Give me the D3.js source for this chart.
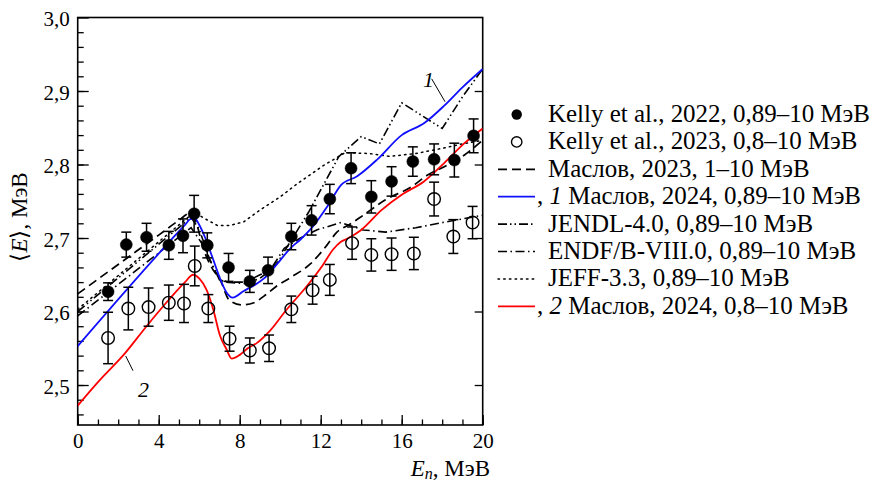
<!DOCTYPE html>
<html><head><meta charset="utf-8">
<script src="https://cdn.jsdelivr.net/npm/d3@7"></script>
<style>
html,body{margin:0;padding:0;background:#fff;}
svg text, svg tspan{font-family:"Liberation Serif","Times New Roman",serif !important;fill:#000;}
</style></head>
<body><svg id="chart" width="879" height="482"></svg>
<script>
// ---------- data ----------
const kelly22X = [1.5, 2.4, 3.4, 4.5, 5.2, 5.75, 6.4, 7.45, 8.5, 9.4, 10.55, 11.55, 12.45, 13.5, 14.5, 15.5, 16.55, 17.6, 18.6, 19.55];
const kelly22Y = [2.627, 2.691, 2.701, 2.690, 2.703, 2.733, 2.690, 2.660, 2.641, 2.656, 2.702, 2.724, 2.753, 2.795, 2.756, 2.777, 2.804, 2.807, 2.806, 2.839];
const kelly22Err = [0.012, 0.017, 0.019, 0.019, 0.023, 0.025, 0.017, 0.019, 0.015, 0.018, 0.018, 0.020, 0.020, 0.021, 0.022, 0.020, 0.020, 0.021, 0.023, 0.023];

const kelly23X = [1.5, 2.5, 3.5, 4.5, 5.25, 5.78, 6.45, 7.5, 8.5, 9.45, 10.55, 11.6, 12.45, 13.55, 14.5, 15.5, 16.6, 17.6, 18.55, 19.5];
const kelly23Y = [2.564, 2.604, 2.606, 2.612, 2.611, 2.662, 2.604, 2.563, 2.547, 2.550, 2.603, 2.629, 2.643, 2.693, 2.677, 2.678, 2.679, 2.753, 2.702, 2.721];
const kelly23Err = [0.035, 0.029, 0.026, 0.024, 0.026, 0.027, 0.019, 0.017, 0.017, 0.018, 0.018, 0.019, 0.021, 0.022, 0.022, 0.022, 0.022, 0.023, 0.023, 0.022];

const maslov23X = [0, 1, 2, 3, 4, 5, 5.5, 5.8, 6.2, 6.7, 7.0, 7.5, 8.1, 8.7, 9.2, 9.8, 10.5, 11.5, 12.3, 12.8, 13.4, 14.0, 15.2, 16.5, 17.3, 18.1, 19.1, 20];
const maslov23Y = [2.624, 2.644, 2.664, 2.684, 2.704, 2.724, 2.733, 2.725, 2.686, 2.656, 2.645, 2.615, 2.609, 2.612, 2.621, 2.634, 2.646, 2.665, 2.690, 2.708, 2.718, 2.729, 2.752, 2.770, 2.786, 2.797, 2.813, 2.833];

const maslov24aX = [0, 4.5, 5.3, 5.6, 5.8, 6.0, 6.3, 6.7, 7.0, 7.35, 7.65, 8.2, 8.8, 9.2, 9.8, 10.5, 11.0, 11.5, 12.4, 13.0, 13.8, 14.8, 16.0, 17.1, 18.1, 19.0, 20];
const maslov24aY = [2.553, 2.694, 2.718, 2.726, 2.726, 2.718, 2.700, 2.670, 2.647, 2.626, 2.619, 2.628, 2.637, 2.645, 2.663, 2.686, 2.698, 2.712, 2.746, 2.772, 2.784, 2.807, 2.840, 2.856, 2.880, 2.905, 2.930];

const jendlX = [0, 5.6, 6.0, 6.5, 7.0, 7.5, 8.3, 9.0, 9.5, 9.9, 10.5, 11.4, 12.9, 14.0, 14.9, 16.0, 18.0, 19.0, 20];
const jendlY = [2.600, 2.728, 2.712, 2.672, 2.643, 2.640, 2.640, 2.650, 2.656, 2.668, 2.695, 2.735, 2.811, 2.838, 2.828, 2.884, 2.849, 2.892, 2.930];

const endfX = [0, 5.6, 6.2, 6.8, 7.2, 8.3, 9.0, 9.5, 10.2, 11.0, 11.8, 13.0, 14.1, 15.2, 16.7, 18.2, 20];
const endfY = [2.594, 2.714, 2.690, 2.654, 2.640, 2.638, 2.645, 2.656, 2.686, 2.700, 2.711, 2.721, 2.711, 2.708, 2.714, 2.722, 2.731];

const jeffX = [0, 5.75, 6.3, 6.9, 7.5, 8.2, 9.0, 10.0, 10.8, 12.1, 13.2, 14.4, 15.4, 16.7, 18.0, 19.0, 20];
const jeffY = [2.603, 2.735, 2.726, 2.717, 2.717, 2.722, 2.738, 2.756, 2.773, 2.798, 2.816, 2.815, 2.811, 2.815, 2.822, 2.828, 2.833];

const maslov24bX = [0, 1, 2.33, 3.4, 4.5, 5.3, 5.7, 6.0, 6.37, 6.7, 7.03, 7.36, 7.6, 8.0, 8.4, 8.84, 9.5, 10.3, 11.3, 12.1, 12.6, 13.0, 13.3, 14.0, 15.0, 16.0, 17.1, 18.1, 19.1, 20];
const maslov24bY = [2.472, 2.504, 2.543, 2.580, 2.616, 2.640, 2.650, 2.645, 2.629, 2.602, 2.567, 2.548, 2.536, 2.541, 2.550, 2.557, 2.574, 2.602, 2.634, 2.663, 2.684, 2.695, 2.699, 2.711, 2.738, 2.759, 2.777, 2.802, 2.829, 2.849];

const xTicksMajor = [0, 4, 8, 12, 16, 20];
const yTicksMajor = [2.5, 2.6, 2.7, 2.8, 2.9, 3.0];

const legendLabels = [
  "Kelly et al., 2022, 0,89–10 МэВ",
  "Kelly et al., 2023, 0,8–10 МэВ",
  "Маслов, 2023, 1–10 МэВ",
  " Маслов, 2024, 0,89–10 МэВ",
  "JENDL-4.0, 0,89–10 МэВ",
  "ENDF/B-VIII.0, 0,89–10 МэВ",
  "JEFF-3.3, 0,89–10 МэВ",
  " Маслов, 2024, 0,8–10 МэВ"
];

// ---------- layout ----------
const FONT = "'Liberation Serif', 'Times New Roman', serif";
const svg = d3.select("#chart");
const x = d3.scaleLinear().domain([0, 20]).range([77.7, 482.7]);
const y = d3.scaleLinear().domain([2.4456, 3.0]).range([425, 17.5]);
const fmt = d => d3.format(".1f")(d).replace(".", ",");
const TICK_FS = 21;

svg.append("defs").append("clipPath").attr("id", "clip")
  .append("rect").attr("x", x(0)).attr("y", y(3.0)).attr("width", x(20) - x(0)).attr("height", y(2.4456) - y(3.0));

// axes
const xMinor = d3.range(0, 21, 1);
const yMinor = d3.range(2.46, 3.0, 0.02).map(v => +v.toFixed(2));

svg.append("g").attr("transform", `translate(0,${y.range()[0]})`)
  .call(d3.axisBottom(x).tickValues(xMinor).tickSizeInner(-5.5).tickSizeOuter(0).tickFormat(""))
  .call(g => g.select(".domain").remove());
const xAx = svg.append("g").attr("transform", `translate(0,${y.range()[0]})`)
  .call(d3.axisBottom(x).tickValues(xTicksMajor).tickSizeInner(-10).tickSizeOuter(0).tickPadding(9).tickFormat(d3.format("d")));
xAx.select(".domain").remove();
xAx.attr("font-family", null);
xAx.selectAll("text").attr("font-size", TICK_FS).attr("dy", "0.68em");

svg.append("g").attr("transform", `translate(${x.range()[0]},0)`)
  .call(d3.axisLeft(y).tickValues(yMinor).tickSizeInner(-6).tickSizeOuter(0).tickFormat(""))
  .call(g => g.select(".domain").remove());
const yAx = svg.append("g").attr("transform", `translate(${x.range()[0]},0)`)
  .call(d3.axisLeft(y).tickValues(yTicksMajor).tickSizeInner(-11).tickSizeOuter(0).tickPadding(8).tickFormat(fmt));
yAx.select(".domain").remove();
yAx.attr("font-family", null);
yAx.selectAll("text").attr("font-size", TICK_FS).attr("dy", "0.4em");

svg.append("g").attr("transform", `translate(${x.range()[1]},0)`)
  .call(d3.axisRight(y).tickValues(yTicksMajor.slice(0, 5)).tickSizeInner(-8).tickSizeOuter(0).tickFormat(""))
  .call(g => g.select(".domain").remove());

svg.selectAll(".tick line").attr("stroke", "#000").attr("stroke-width", 1.3);

// frame
svg.append("rect").attr("x", x(0)).attr("y", y(3.0)).attr("width", x(20) - x(0)).attr("height", y(2.4456) - y(3.0))
  .attr("fill", "none").attr("stroke", "#000").attr("stroke-width", 1.6);

// lines
const plot = svg.append("g").attr("clip-path", "url(#clip)");
const zip = (xs, ys) => xs.map((v, i) => [v, ys[i]]);
const lineLin = d3.line().x(d => x(d[0])).y(d => y(d[1]));
const lineSm = d3.line().x(d => x(d[0])).y(d => y(d[1])).curve(d3.curveMonotoneX);

const series = [
  {xs: jeffX, ys: jeffY, color: "#000", dash: "1.5,4.2", w: 1.5, gen: lineLin, cap: "round"},
  {xs: endfX, ys: endfY, color: "#000", dash: "9,3.5,1.5,3.5", w: 1.6, gen: lineLin},
  {xs: jendlX, ys: jendlY, color: "#000", dash: "9,3,1.5,3,1.5,3", w: 1.6, gen: lineLin},
  {xs: maslov23X, ys: maslov23Y, color: "#000", dash: "9,5", w: 1.7, gen: lineSm},
  {xs: maslov24aX, ys: maslov24aY, color: "#1010ff", dash: null, w: 1.8, gen: lineSm},
  {xs: maslov24bX, ys: maslov24bY, color: "#ff0000", dash: null, w: 1.8, gen: lineSm}
];
series.forEach(s => {
  plot.append("path").attr("d", s.gen(zip(s.xs, s.ys)))
    .attr("fill", "none").attr("stroke", s.color).attr("stroke-width", s.w)
    .attr("stroke-dasharray", s.dash).attr("stroke-linecap", s.cap || "butt");
});

// error bars and markers
function drawPoints(xs, ys, es, filled) {
  const g = svg.append("g");
  const d = xs.map((v, i) => ({x: v, y: ys[i], e: es[i]}));
  const cap = 5;
  g.append("g").selectAll("line").data(d).join("line")
    .attr("x1", p => x(p.x)).attr("x2", p => x(p.x))
    .attr("y1", p => y(p.y - p.e)).attr("y2", p => y(p.y + p.e))
    .attr("stroke", "#000").attr("stroke-width", 1.5);
  g.append("g").selectAll("line").data(d).join("line")
    .attr("x1", p => x(p.x) - cap).attr("x2", p => x(p.x) + cap)
    .attr("y1", p => y(p.y + p.e)).attr("y2", p => y(p.y + p.e))
    .attr("stroke", "#000").attr("stroke-width", 1.5);
  g.append("g").selectAll("line").data(d).join("line")
    .attr("x1", p => x(p.x) - cap).attr("x2", p => x(p.x) + cap)
    .attr("y1", p => y(p.y - p.e)).attr("y2", p => y(p.y - p.e))
    .attr("stroke", "#000").attr("stroke-width", 1.5);
  g.append("g").selectAll("circle").data(d).join("circle")
    .attr("cx", p => x(p.x)).attr("cy", p => y(p.y))
    .attr("r", filled ? 6 : 6.3)
    .attr("fill", filled ? "#000" : "none")
    .attr("stroke", "#000").attr("stroke-width", filled ? 0.5 : 1.4);
}
drawPoints(kelly23X, kelly23Y, kelly23Err, false);
drawPoints(kelly22X, kelly22Y, kelly22Err, true);

// curve annotations
svg.append("text").attr("x", x(17.05)).attr("y", y(2.905)).attr("font-size", 22).attr("font-style", "italic").text("1");
svg.append("line").attr("x1", x(17.48)).attr("y1", y(2.9166)).attr("x2", x(18.14)).attr("y2", y(2.8854)).attr("stroke", "#000").attr("stroke-width", 1);
svg.append("text").attr("x", x(2.98)).attr("y", y(2.484)).attr("font-size", 22).attr("font-style", "italic").text("2");
svg.append("line").attr("x1", x(2.37)).attr("y1", y(2.5395)).attr("x2", x(2.73)).attr("y2", y(2.5195)).attr("stroke", "#000").attr("stroke-width", 1);

// helper: scale a text's font size so that it spans a target width
function fitWidth(sel, baseFs, target) {
  sel.attr("font-size", baseFs);
  const w = sel.node().getComputedTextLength();
  if (w > 0) sel.attr("font-size", baseFs * target / w);
}

// axis titles
const yt = svg.append("text").attr("transform", "translate(27,217) rotate(-90)").attr("text-anchor", "middle").attr("font-size", 23);
yt.append("tspan").text("⟨");
yt.append("tspan").attr("font-style", "italic").text("E");
yt.append("tspan").text("⟩, МэВ");

const xt = svg.append("text").attr("x", 490).attr("y", 476).attr("text-anchor", "end").attr("font-size", 23);
xt.append("tspan").attr("font-style", "italic").text("E");
xt.append("tspan").attr("font-style", "italic").attr("font-size", 16).attr("dy", 3).text("n");
xt.append("tspan").attr("dy", -3).text(", МэВ");

// legend
const lg = svg.append("g");
const rowY = i => 114.5 + 27.4 * i;
const sx0 = 498, sx1 = 535, mx = 516.7, tx = 548;
const probe = lg.append("text").style("font-family", FONT).text(legendLabels[0]);
fitWidth(probe, 24, 322);
const LEG_FS = +probe.attr("font-size");
probe.remove();
legendLabels.forEach((lab, i) => {
  const cy = rowY(i);
  if (i === 0) lg.append("circle").attr("cx", mx).attr("cy", cy).attr("r", 5.2).attr("fill", "#000");
  else if (i === 1) lg.append("circle").attr("cx", mx).attr("cy", cy).attr("r", 5.2).attr("fill", "none").attr("stroke", "#000").attr("stroke-width", 1.4);
  else {
    const s = [null, null, series[3], series[4], series[2], series[1], series[0], series[5]][i];
    lg.append("line").attr("x1", sx0).attr("x2", sx1).attr("y1", cy).attr("y2", cy)
      .attr("stroke", s.color).attr("stroke-width", s.w).attr("stroke-dasharray", s.dash).attr("stroke-linecap", s.cap || "butt");
  }
  if (i === 3 || i === 7) {
    const t = lg.append("text").attr("x", 537).attr("y", cy + 7.5).attr("font-size", LEG_FS);
    t.append("tspan").text(", ");
    t.append("tspan").attr("font-style", "italic").text(i === 3 ? "1" : "2");
    t.append("tspan").text(lab);
  } else {
    lg.append("text").attr("x", tx).attr("y", cy + 7.5).attr("font-size", LEG_FS).text(lab);
  }
});
svg.selectAll("text").style("font-family", FONT);
</script>
</body></html>
